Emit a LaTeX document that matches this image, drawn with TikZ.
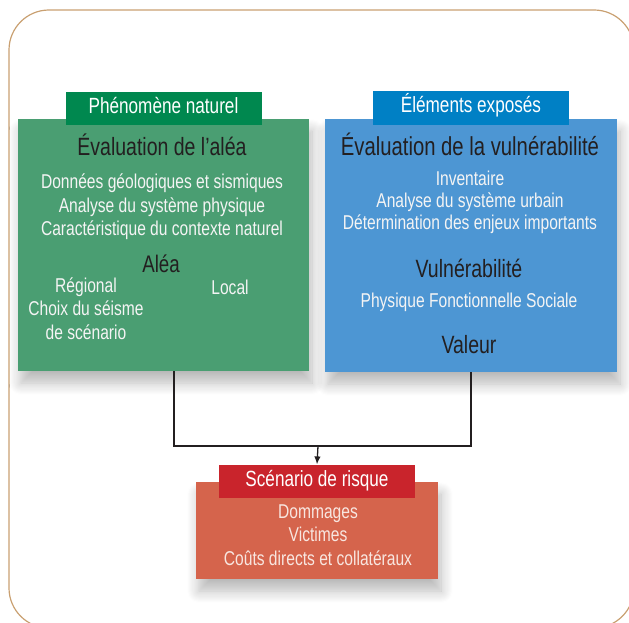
\documentclass[tikz,border=0pt]{standalone}
\usepackage{fontspec}
\setmainfont{Liberation Sans}[FakeStretch=0.78]
\usetikzlibrary{positioning,arrows.meta,shadows.blur}

\definecolor{frame}{HTML}{C9A071}
\definecolor{greenbox}{HTML}{4A9E72}
\definecolor{greentab}{HTML}{00884F}
\definecolor{bluebox}{HTML}{4D96D3}
\definecolor{bluetab}{HTML}{0080C5}
\definecolor{redbox}{HTML}{D5644C}
\definecolor{redtab}{HTML}{C9242C}
\definecolor{darktxt}{HTML}{231F20}
\definecolor{lighttxt}{HTML}{F4F4F4}
\definecolor{pinktxt}{HTML}{F8E6E0}

\tikzset{
  box/.style={inner sep=0pt, blur shadow={shadow xshift=3pt, shadow yshift=-12pt,
      shadow blur steps=12, shadow blur radius=12pt, shadow opacity=28}},
  tab/.style={inner sep=0pt, minimum width=196, minimum height=33, text=white,
      text height=15, text depth=5, font=\fontsize{22}{26}\selectfont},
  head/.style={text=darktxt, anchor=base, font=\fontsize{25}{30}\selectfont},
  lbl/.style={text=lighttxt, anchor=base, align=center},
  link/.style={line width=1.3pt, draw=darktxt}
}

\begin{document}
\begin{tikzpicture}[x=1pt,y=-1pt]
  \useasboundingbox (0,0) rectangle (629,623);
  \draw[frame, line width=1.2pt, rounded corners=40] (9,10) rectangle (634,628);

  \node[box, fill=greenbox, minimum width=291, minimum height=252] (alea) at (163.5,245) {};
  \node[box, fill=bluebox, minimum width=292, minimum height=253] (vuln) at (471,245.5) {};
  \node[box, fill=redbox, minimum width=242, minimum height=97] (risque) at (317,530.5) {};

  \node[tab, fill=greentab, above=-6pt of alea.north] (phen) {Phénomène naturel};
  \node[tab, fill=bluetab, above=-6pt of vuln.north, minimum height=34] (expo) {Éléments exposés};
  \node[tab, fill=redtab, above=-16pt of risque.north] (scen) {Scénario de risque};

  \node[head] (evalalea) at (162,155) {Évaluation de l’aléa};
  \node[lbl, font=\fontsize{20}{23.5}\selectfont] (donnees) at (162,235.5)
    {Données géologiques et sismiques\\Analyse du système physique\\Caractéristique du contexte naturel};
  \node[head, font=\fontsize{24}{28}\selectfont] (aleatxt) at (161,272) {Aléa};
  \node[lbl, font=\fontsize{20}{23.5}\selectfont] (regional) at (86,339)
    {Régional\\Choix du séisme\\de scénario};
  \node[lbl, font=\fontsize{20}{23.5}\selectfont] (local) at (230,294) {Local};

  \node[head, font=\fontsize{26}{30}\selectfont] (evalvuln) at (470,155) {Évaluation de la vulnérabilité};
  \node[lbl, font=\fontsize{20}{22}\selectfont] (invent) at (470,229)
    {Inventaire\\Analyse du système urbain\\Détermination des enjeux importants};
  \node[head] (vulntxt) at (469,277) {Vulnérabilité};
  \node[lbl, font=\fontsize{20}{23.5}\selectfont] (physique) at (469,307) {Physique Fonctionnelle Sociale};
  \node[head] (valeur) at (469,353) {Valeur};

  \node[lbl, text=pinktxt, font=\fontsize{20}{23.5}\selectfont] (dommages) at (318,565)
    {Dommages\\Victimes\\Coûts directs et collatéraux};

  \coordinate (j) at (318,446);
  \draw[link] ([xshift=10.5pt]alea.south) |- (j) -| (vuln.south);
  \draw[link, -{Latex[length=8pt,width=6.5pt]}] (j) -- (scen.north);
\end{tikzpicture}
\end{document}
